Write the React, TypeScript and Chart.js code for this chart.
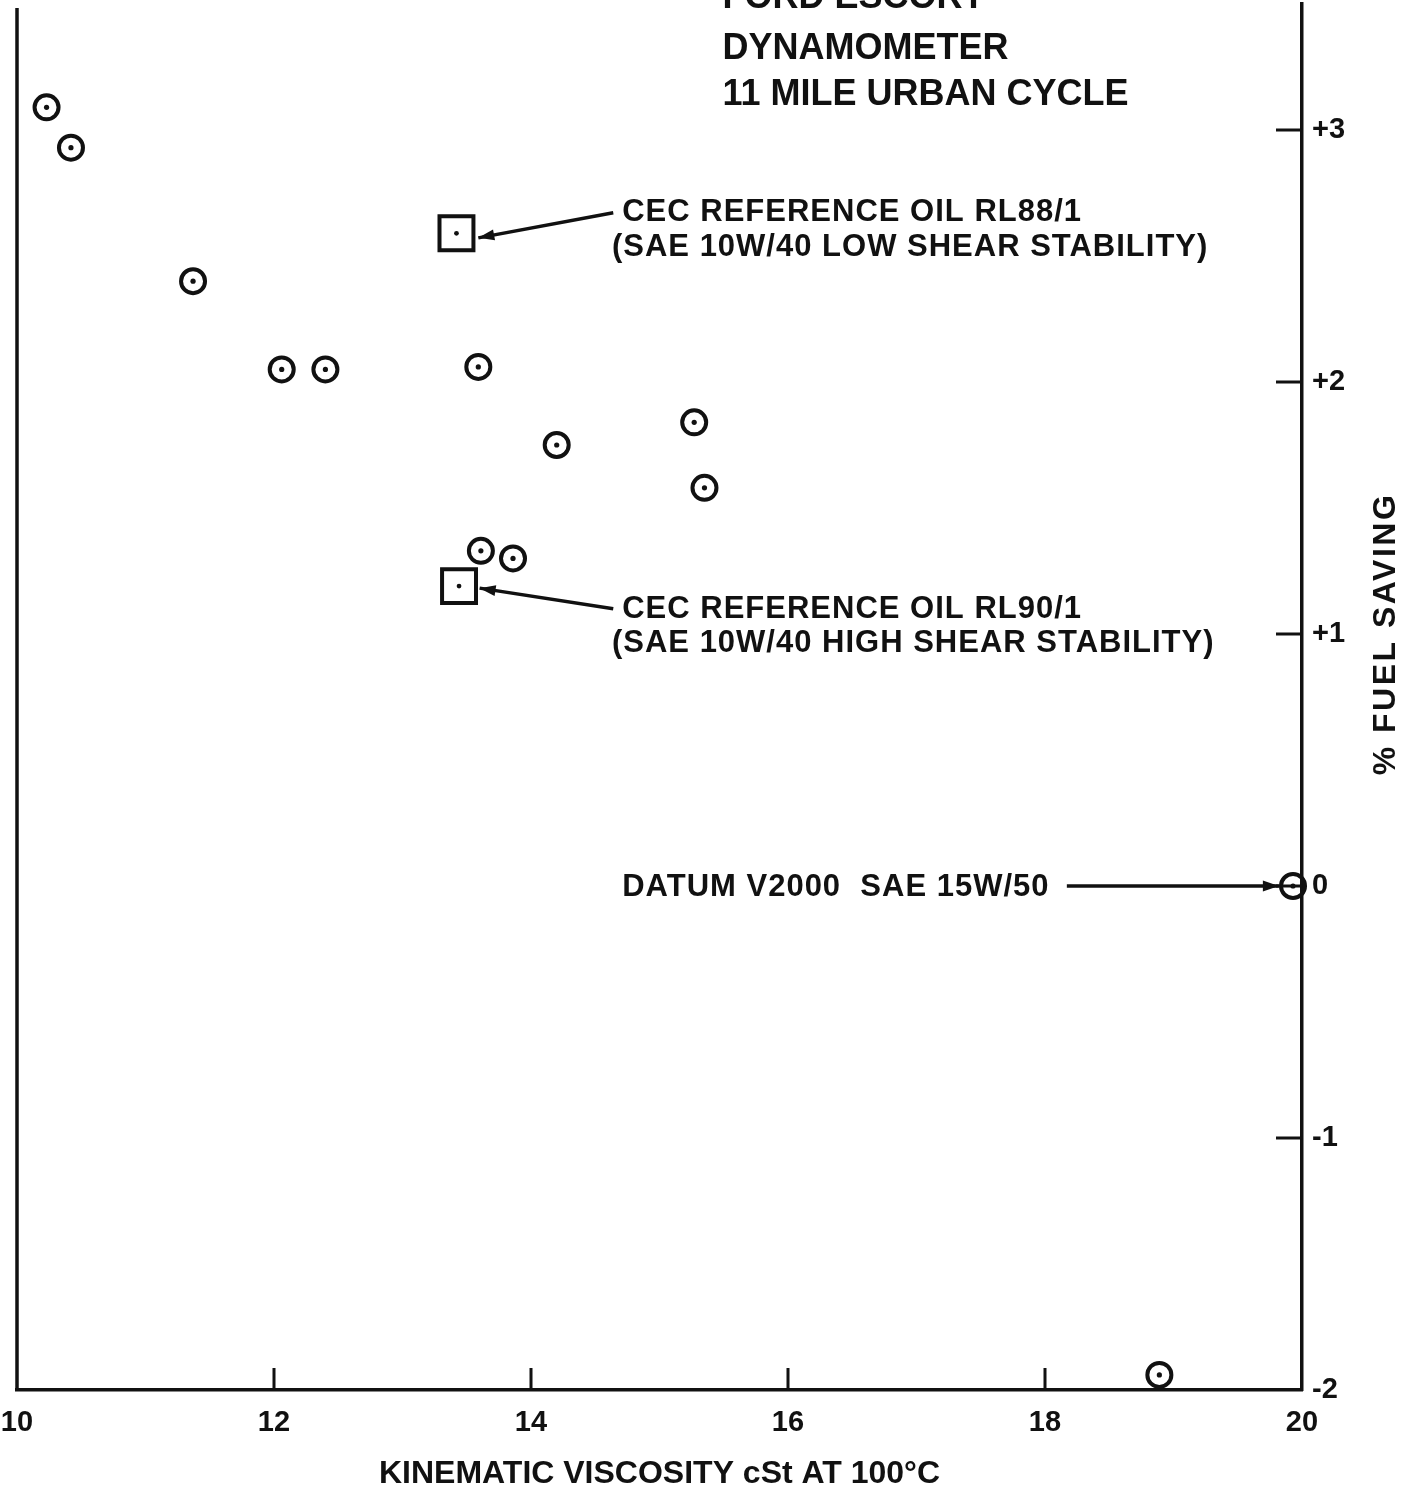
import React, { useEffect, useRef } from "react";
import { Chart, registerables } from "chart.js";

Chart.register(...registerables);

const INK = "#111111";
const FONT = "'Liberation Sans', Arial, sans-serif";

// Test oils: kinematic viscosity (cSt at 100°C) against % fuel saving
const oilViscosity = [10.23, 10.42, 11.37, 12.06, 12.4, 13.59, 14.2, 15.27, 15.35, 13.61, 13.86, 18.89];
const oilFuelSaving = [3.09, 2.93, 2.4, 2.05, 2.05, 2.06, 1.75, 1.84, 1.58, 1.33, 1.3, -1.94];

// CEC reference oils RL88/1 and RL90/1
const refViscosity = [13.42, 13.44];
const refFuelSaving = [2.59, 1.19];

// Datum oil V2000 SAE 15W/50
const datumViscosity = [19.93];
const datumFuelSaving = [0];

const xTickValues = [10, 12, 14, 16, 18, 20];
const yTickValues = [-2, -1, 0, 1, 2, 3];
const yTickLabels = ["-2", "-1", "0", "+1", "+2", "+3"];

const titleLines = ["FORD ESCORT", "DYNAMOMETER", "11 MILE URBAN CYCLE"];
const xAxisTitle = "KINEMATIC VISCOSITY cSt AT 100°C";
const yAxisTitle = "% FUEL SAVING";

const noteLines = [
  "CEC REFERENCE OIL RL88/1",
  "(SAE 10W/40 LOW SHEAR STABILITY)",
  "CEC REFERENCE OIL RL90/1",
  "(SAE 10W/40 HIGH SHEAR STABILITY)",
  "DATUM V2000  SAE 15W/50",
];

// Placement of the text blocks, in axis units
const titlePlacement = { x: 15.49, baselines: [3.484, 3.282, 3.099] };
const notePlacement = [
  { x: 14.71, y: 2.671 },
  { x: 14.63, y: 2.532 },
  { x: 14.71, y: 1.099 },
  { x: 14.63, y: 0.964 },
  { x: 14.71, y: -0.004 },
];
const arrowPlacement = [
  { from: [14.64, 2.672], to: [13.59, 2.572] },
  { from: [14.64, 1.1], to: [13.6, 1.182] },
  { from: [18.17, 0], to: [19.82, 0] },
];

const toPoints = (xs: number[], ys: number[]) => xs.map((x, i) => ({ x, y: ys[i] }));

const notesPlugin = {
  id: "escortNotes",
  afterDraw(chart: any) {
    const { ctx, chartArea, scales } = chart;
    const px = (v: number) => scales.x.getPixelForValue(v);
    const py = (v: number) => scales.y.getPixelForValue(v);
    ctx.save();
    ctx.strokeStyle = INK;
    ctx.fillStyle = INK;

    // left frame line
    ctx.lineWidth = 3.5;
    ctx.beginPath();
    ctx.moveTo(chartArea.left, chartArea.top + 4);
    ctx.lineTo(chartArea.left, chartArea.bottom);
    ctx.stroke();

    // inward tick marks
    ctx.lineWidth = 3;
    ctx.beginPath();
    xTickValues.slice(1, -1).forEach((v) => {
      const x = px(v);
      ctx.moveTo(x, chartArea.bottom);
      ctx.lineTo(x, chartArea.bottom - 22);
    });
    yTickValues.slice(1).forEach((v) => {
      const y = py(v);
      ctx.moveTo(chartArea.right, y);
      ctx.lineTo(chartArea.right - 26, y);
    });
    ctx.stroke();

    // leader arrows
    arrowPlacement.forEach((a) => {
      const x1 = px(a.from[0]);
      const y1 = py(a.from[1]);
      const x2 = px(a.to[0]);
      const y2 = py(a.to[1]);
      ctx.lineWidth = 3.5;
      ctx.beginPath();
      ctx.moveTo(x1, y1);
      ctx.lineTo(x2, y2);
      ctx.stroke();
      const ang = Math.atan2(y2 - y1, x2 - x1);
      const len = 16;
      const hw = 5.5;
      const bx = x2 - Math.cos(ang) * len;
      const by = y2 - Math.sin(ang) * len;
      ctx.beginPath();
      ctx.moveTo(x2, y2);
      ctx.lineTo(bx - Math.sin(ang) * hw, by + Math.cos(ang) * hw);
      ctx.lineTo(bx + Math.sin(ang) * hw, by - Math.cos(ang) * hw);
      ctx.closePath();
      ctx.fill();
    });

    // title block
    ctx.font = `bold 36px ${FONT}`;
    ctx.textAlign = "left";
    ctx.textBaseline = "alphabetic";
    titleLines.forEach((t, i) => {
      ctx.fillText(t, px(titlePlacement.x), py(titlePlacement.baselines[i]));
    });

    // notes
    ctx.font = `bold 31px ${FONT}`;
    (ctx as any).letterSpacing = "1px";
    ctx.textBaseline = "middle";
    noteLines.forEach((t, i) => {
      ctx.fillText(t, px(notePlacement[i].x), py(notePlacement[i].y));
    });

    // y axis title, reading upward
    ctx.font = `bold 32px ${FONT}`;
    (ctx as any).letterSpacing = "2.5px";
    ctx.translate(chartArea.right + 84, py(1.0));
    ctx.rotate(-Math.PI / 2);
    ctx.textAlign = "center";
    ctx.fillText(yAxisTitle, 0, 0);
    ctx.restore();
  },
};

export default function App() {
  const ref = useRef<HTMLCanvasElement | null>(null);

  useEffect(() => {
    if (!ref.current) return;
    const tickFont = { family: FONT, size: 29, weight: "bold" as const };
    const chart = new Chart(ref.current, {
      type: "scatter",
      data: {
        datasets: [
          {
            label: "oils",
            data: toPoints(oilViscosity.concat(datumViscosity), oilFuelSaving.concat(datumFuelSaving)),
            pointStyle: "circle",
            pointRadius: 12,
            borderWidth: 4,
            borderColor: INK,
            backgroundColor: "rgba(0,0,0,0)",
            clip: false,
          },
          {
            label: "oil centres",
            data: toPoints(oilViscosity.concat(datumViscosity), oilFuelSaving.concat(datumFuelSaving)),
            pointStyle: "circle",
            pointRadius: 2.6,
            borderWidth: 0,
            backgroundColor: INK,
            clip: false,
          },
          {
            label: "reference oils",
            data: toPoints(refViscosity, refFuelSaving),
            pointStyle: "rect",
            pointRadius: 24,
            borderWidth: 4,
            borderColor: INK,
            backgroundColor: "rgba(0,0,0,0)",
            clip: false,
          },
          {
            label: "reference centres",
            data: toPoints(refViscosity, refFuelSaving),
            pointStyle: "circle",
            pointRadius: 2.4,
            borderWidth: 0,
            backgroundColor: INK,
            clip: false,
          },
        ],
      },
      options: {
        responsive: false,
        animation: false,
        events: [],
        layout: { autoPadding: false, padding: { left: 17, top: 4, right: 0, bottom: 0 } },
        plugins: { legend: { display: false }, tooltip: { enabled: false } },
        scales: {
          x: {
            type: "linear",
            position: "bottom",
            min: 10,
            max: 20,
            afterBuildTicks: (s: any) => {
              s.ticks = xTickValues.map((v) => ({ value: v }));
            },
            afterFit: (s: any) => {
              s.height = 100;
              s.paddingLeft = 0;
              s.paddingRight = 0;
            },
            grid: { display: false, drawTicks: false, tickLength: 0 },
            border: { display: true, color: INK, width: 3.5 },
            ticks: {
              color: INK,
              font: tickFont,
              padding: 16,
              maxRotation: 0,
              autoSkip: false,
              callback: (v: any) => String(v),
            },
            title: {
              display: true,
              text: xAxisTitle,
              color: INK,
              font: { family: FONT, size: 32, weight: "bold", lineHeight: 1 },
              padding: { top: 0, bottom: 0 },
            },
          },
          y: {
            type: "linear",
            position: "right",
            min: -2,
            max: 3.5,
            afterBuildTicks: (s: any) => {
              s.ticks = yTickValues.map((v) => ({ value: v }));
            },
            afterFit: (s: any) => {
              s.width = 109;
              s.paddingTop = 0;
              s.paddingBottom = 0;
            },
            grid: { display: false, drawTicks: false, tickLength: 0 },
            border: { display: true, color: INK, width: 3.5 },
            ticks: {
              color: INK,
              font: tickFont,
              padding: 10,
              autoSkip: false,
              callback: (_v: any, i: number) => yTickLabels[i],
            },
          },
        },
      },
      plugins: [notesPlugin],
    } as any);
    return () => chart.destroy();
  }, []);

  return (
    <div style={{ position: "absolute", left: 0, top: 0, width: 1411, height: 1490, background: "#fff" }}>
      <canvas ref={ref} width={1411} height={1490} style={{ display: "block" }} />
    </div>
  );
}
